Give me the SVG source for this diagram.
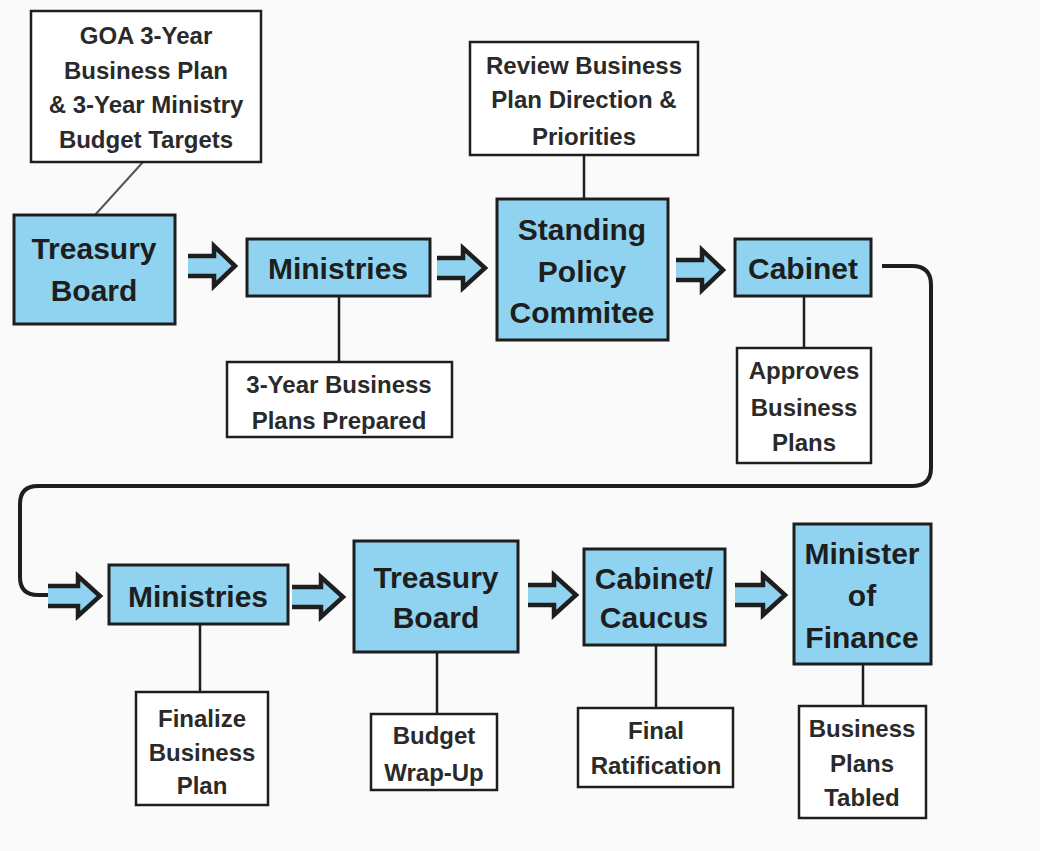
<svg xmlns="http://www.w3.org/2000/svg" width="1040" height="851" viewBox="0 0 1040 851">
<style>
.bg{fill:#fafafa}
.main{fill:#8fd3f1;stroke:#1e1e1e;stroke-width:3}
.note{fill:#ffffff;stroke:#1e1e1e;stroke-width:2.5}
.t1{font-family:"Liberation Sans",Arial,sans-serif;font-weight:bold;font-size:30px;fill:#1e1e1e;text-anchor:middle}
.t2{font-family:"Liberation Sans",Arial,sans-serif;font-weight:bold;font-size:24px;fill:#2a2a2a;text-anchor:middle}
.ln{stroke:#1e1e1e;stroke-width:2.5;fill:none}
.loop{stroke:#1e1e1e;stroke-width:4;fill:none}
.arr{fill:#8fd3f1;stroke:#1e1e1e;stroke-width:4.5;stroke-linejoin:miter}
</style>
<rect class="bg" x="0" y="0" width="1040" height="851"/>

<g id="connectors">
<line class="ln" x1="143" y1="162" x2="95" y2="215" style="stroke:#555;stroke-width:2"/>
<line class="ln" x1="339" y1="296" x2="339" y2="362"/>
<line class="ln" x1="584" y1="155" x2="584" y2="199"/>
<line class="ln" x1="804" y1="296" x2="804" y2="348"/>
<line class="ln" x1="200" y1="624" x2="200" y2="692"/>
<line class="ln" x1="437" y1="652" x2="437" y2="714"/>
<line class="ln" x1="656" y1="645" x2="656" y2="708"/>
<line class="ln" x1="863" y1="664" x2="863" y2="706"/>
<path class="loop" d="M 882,266 H 912 Q 931,266 931,285 V 468 Q 931,486 912,486 H 38 Q 20,486 20,504 V 577 Q 20,595 38,595 H 48"/>
<path class="arr" d="M 188,256 H 214 V 246 L 235,266 L 214,286 V 276 H 188"/>
<path class="arr" d="M 437,258 H 463 V 248 L 485,268 L 463,288 V 278 H 437"/>
<path class="arr" d="M 676,260 H 702 V 250 L 723,270 L 702,290 V 280 H 676"/>
<path class="arr" d="M 48,586 H 78 V 576 L 100,596 L 78,616 V 606 H 48"/>
<path class="arr" d="M 292,587 H 321 V 577 L 343,597 L 321,617 V 607 H 292"/>
<path class="arr" d="M 528,585 H 554 V 575 L 576,595 L 554,615 V 605 H 528"/>
<path class="arr" d="M 735,585 H 763 V 575 L 785,595 L 763,615 V 605 H 735"/>
</g>

<g id="goa">
<rect class="note" x="31" y="11" width="230" height="151"/>
<text class="t2" x="146" y="44">GOA 3-Year</text>
<text class="t2" x="146" y="79">Business Plan</text>
<text class="t2" x="146" y="113">&amp; 3-Year Ministry</text>
<text class="t2" x="146" y="148">Budget Targets</text>
</g>

<g id="treasury1">
<rect class="main" x="14" y="215" width="161" height="109"/>
<text class="t1" x="94" y="259">Treasury</text>
<text class="t1" x="94" y="301">Board</text>
</g>

<g id="ministries1">
<rect class="main" x="247" y="239" width="183" height="57"/>
<text class="t1" x="338" y="279">Ministries</text>
</g>

<g id="prepared">
<rect class="note" x="227" y="362" width="225" height="75"/>
<text class="t2" x="339" y="393">3-Year Business</text>
<text class="t2" x="339" y="429">Plans Prepared</text>
</g>

<g id="review">
<rect class="note" x="470" y="42" width="228" height="113"/>
<text class="t2" x="584" y="74">Review Business</text>
<text class="t2" x="584" y="108">Plan Direction &amp;</text>
<text class="t2" x="584" y="145">Priorities</text>
</g>

<g id="spc">
<rect class="main" x="497" y="199" width="171" height="141"/>
<text class="t1" x="582" y="240">Standing</text>
<text class="t1" x="582" y="282">Policy</text>
<text class="t1" x="582" y="323">Commitee</text>
</g>

<g id="cabinet">
<rect class="main" x="735" y="239" width="136" height="57"/>
<text class="t1" x="803" y="279">Cabinet</text>
</g>

<g id="approves">
<rect class="note" x="737" y="348" width="134" height="115"/>
<text class="t2" x="804" y="379">Approves</text>
<text class="t2" x="804" y="416">Business</text>
<text class="t2" x="804" y="451">Plans</text>
</g>

<g id="ministries2">
<rect class="main" x="109" y="565" width="179" height="59"/>
<text class="t1" x="198" y="607">Ministries</text>
</g>

<g id="finalize">
<rect class="note" x="136" y="692" width="132" height="113"/>
<text class="t2" x="202" y="727">Finalize</text>
<text class="t2" x="202" y="761">Business</text>
<text class="t2" x="202" y="794">Plan</text>
</g>

<g id="treasury2">
<rect class="main" x="354" y="541" width="164" height="111"/>
<text class="t1" x="436" y="588">Treasury</text>
<text class="t1" x="436" y="628">Board</text>
</g>

<g id="wrapup">
<rect class="note" x="371" y="714" width="126" height="76"/>
<text class="t2" x="434" y="744">Budget</text>
<text class="t2" x="434" y="781">Wrap-Up</text>
</g>

<g id="caucus">
<rect class="main" x="584" y="549" width="141" height="96"/>
<text class="t1" x="654" y="589">Cabinet/</text>
<text class="t1" x="654" y="628">Caucus</text>
</g>

<g id="ratification">
<rect class="note" x="578" y="708" width="155" height="79"/>
<text class="t2" x="656" y="739">Final</text>
<text class="t2" x="656" y="774">Ratification</text>
</g>

<g id="finance">
<rect class="main" x="794" y="524" width="137" height="140"/>
<text class="t1" x="862" y="564">Minister</text>
<text class="t1" x="862" y="606">of</text>
<text class="t1" x="862" y="648">Finance</text>
</g>

<g id="tabled">
<rect class="note" x="799" y="706" width="127" height="112"/>
<text class="t2" x="862" y="737">Business</text>
<text class="t2" x="862" y="772">Plans</text>
<text class="t2" x="862" y="806">Tabled</text>
</g>
</svg>
